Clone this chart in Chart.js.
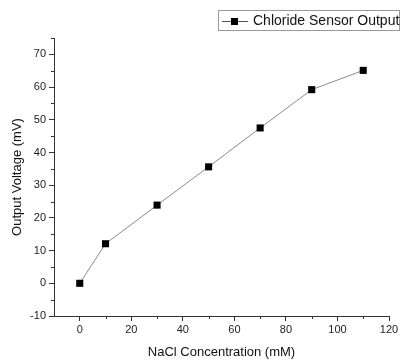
<!DOCTYPE html>
<html>
<head>
<meta charset="utf-8">
<script src="https://cdn.jsdelivr.net/npm/chart.js@4"></script>
<style>
  html, body { margin: 0; padding: 0; background: #fff; }
  #wrap { width: 403px; height: 360px; position: relative; }
</style>
</head>
<body>
<div id="wrap"><canvas id="sensorChart"></canvas></div>
<script>
// Data
const concentrations = [0, 10, 30, 50, 70, 90, 110];
const voltages = [0, 12.1, 23.9, 35.6, 47.5, 59.2, 65.1];
const seriesLabel = 'Chloride Sensor Output';
const xTickValues = [0, 20, 40, 60, 80, 100, 120];
const yTickValues = [-10, 0, 10, 20, 30, 40, 50, 60, 70];

const FONT = 'Liberation Sans, Arial, sans-serif';

// minor ticks between the labelled ones
const minorTicks = {
    id: 'minorTicks',
    afterDraw(chart) {
        const ctx = chart.ctx;
        const x = chart.scales.x, y = chart.scales.y;
        ctx.save();
        ctx.strokeStyle = '#333';
        ctx.lineWidth = 1;
        ctx.beginPath();
        for (let v = 10; v <= 110; v += 20) {
            const px = Math.round(x.getPixelForValue(v)) + 0.5;
            ctx.moveTo(px, y.bottom);
            ctx.lineTo(px, y.bottom + 3);
        }
        for (let v = -5; v <= 75; v += 10) {
            const py = Math.round(y.getPixelForValue(v)) + 0.5;
            ctx.moveTo(x.left, py);
            ctx.lineTo(x.left - 3, py);
        }
        ctx.stroke();
        ctx.restore();
    }
};

// boxed legend with line + square marker
const boxLegend = {
    id: 'boxLegend',
    afterDraw(chart) {
        const ctx = chart.ctx;
        ctx.save();
        ctx.strokeStyle = '#999';
        ctx.lineWidth = 1;
        ctx.strokeRect(218.5, 10.5, 181, 20);
        ctx.strokeStyle = '#555';
        ctx.beginPath();
        ctx.moveTo(222, 21.5);
        ctx.lineTo(248, 21.5);
        ctx.stroke();
        ctx.fillStyle = '#000';
        ctx.fillRect(231, 18, 7, 7);
        ctx.font = '14px ' + FONT;
        ctx.textBaseline = 'middle';
        ctx.fillStyle = '#111';
        ctx.fillText(seriesLabel, 253, 21);
        ctx.restore();
    }
};

document.addEventListener('DOMContentLoaded', function() {
    const ctx = document.getElementById('sensorChart').getContext('2d');
    new Chart(ctx, {
        type: 'scatter',
        data: {
            datasets: [{
                label: seriesLabel,
                data: concentrations.map((c, i) => ({ x: c, y: voltages[i] })),
                showLine: true,
                borderColor: '#8a8a8a',
                borderWidth: 1,
                pointStyle: 'rect',
                pointRadius: 5,
                pointBackgroundColor: '#000',
                pointBorderColor: '#000',
                pointBorderWidth: 0
            }]
        },
        options: {
            responsive: true,
            maintainAspectRatio: false,
            animation: false,
            layout: { padding: { top: 38, right: 14, left: 0, bottom: 0 } },
            plugins: {
                legend: { display: false },
                tooltip: { enabled: false }
            },
            scales: {
                x: {
                    type: 'linear',
                    min: -10,
                    max: 120,
                    afterFit: function(scale) { scale.height = 44; },
                    afterBuildTicks: function(scale) {
                        scale.ticks = xTickValues.map(v => ({ value: v }));
                    },
                    ticks: {
                        color: '#222',
                        padding: 2,
                        font: { family: FONT, size: 11 },
                        maxRotation: 0
                    },
                    grid: {
                        drawOnChartArea: false,
                        tickLength: 5,
                        color: '#333'
                    },
                    border: { color: '#333', width: 1 },
                    title: {
                        display: true,
                        text: 'NaCl Concentration (mM)',
                        color: '#111',
                        font: { family: FONT, size: 13 },
                        padding: { top: 0, bottom: 0 }
                    }
                },
                y: {
                    min: -10,
                    max: 75,
                    afterFit: function(scale) { scale.width = 54; },
                    afterBuildTicks: function(scale) {
                        scale.ticks = yTickValues.map(v => ({ value: v }));
                    },
                    ticks: {
                        color: '#222',
                        padding: 3,
                        font: { family: FONT, size: 11 }
                    },
                    grid: {
                        drawOnChartArea: false,
                        tickLength: 5,
                        color: '#333'
                    },
                    border: { color: '#333', width: 1 },
                    title: {
                        display: true,
                        text: 'Output Voltage (mV)',
                        color: '#111',
                        font: { family: FONT, size: 13 },
                        padding: { top: 10, bottom: 0 }
                    }
                }
            }
        },
        plugins: [minorTicks, boxLegend]
    });
});
</script>
</body>
</html>
